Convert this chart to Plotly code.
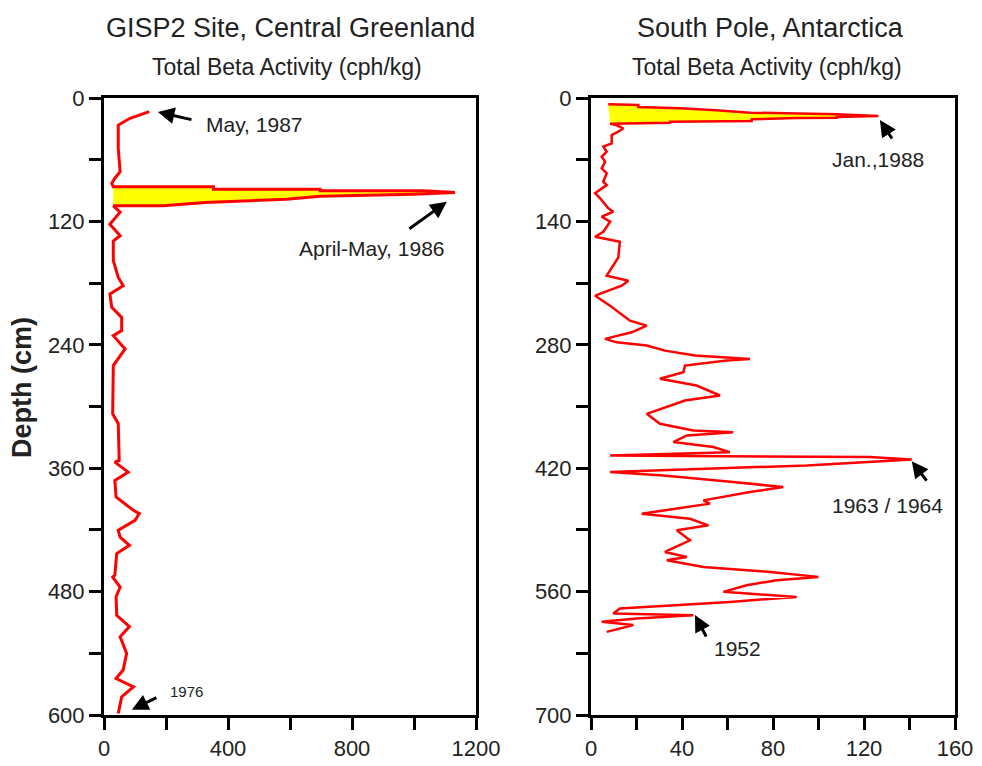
import plotly.graph_objects as go

# ---------------- data ----------------
# GISP2 Site, Central Greenland: total beta activity (cph/kg) vs depth (cm)
gisp2_beta = [146, 84, 46, 46, 52, 35, 25,
              30, 353, 353, 697, 697, 1030, 1132, 1000, 869, 697, 589, 326, 191, 30,
              52, 19, 52, 30, 30, 46, 62, 19, 25, 57, 57, 30, 68, 30, 28, 46, 49, 35, 78,
              35, 39, 95, 114, 100, 46, 52, 82, 41, 35, 28, 52, 39, 41, 82, 52, 73, 62,
              39, 95, 57, 46]
gisp2_depth = [13.3, 19.7, 26.3, 48.9, 71.7, 78, 83,
               86.4, 86.4, 88.7, 88.7, 90.3, 90.3, 91.9, 93.5, 94.5, 95.5, 98.4, 101.6, 104.9, 104.9,
               111, 122.7, 134, 139, 158, 174.5, 182.5, 190.6, 203.6, 213.3, 226.2, 231.1, 244, 260.2,
               307.1, 316.8, 352.5, 354.1, 363.8, 372, 388, 401, 404.2, 410.7, 420.4, 427, 435, 443,
               464, 466, 475.5, 485, 503, 514, 524, 540, 556, 564.5, 572.6, 582.4, 598.4]
gisp2_peak = (7, 20)   # index range of the 1986 peak that is shaded

# South Pole, Antarctica
sp_beta = [7.6, 20.8, 20.8, 39, 55, 70, 108, 126.3, 108, 108, 90, 70.6, 70.6, 34.7, 34.7, 8.4,
           11.3, 14.2, 12, 9.1, 9.1, 5.4, 6.9, 4.7, 6.2, 4.7, 6.9, 5.4, 6.9, 1.8, 4, 7.6, 9.8,
           4.7, 8.4, 5.4, 1.8, 12.7, 12, 8.4, 6.9,
           16.4, 13.5, 1.8, 8.4, 17.1, 24.5, 17.9, 6.2, 11.3, 24.5, 32.5, 45.7, 69.9, 59.6, 41.3,
           40.6, 30.3, 46.4, 56.7, 41.3, 24.5, 30.3, 45, 62.5, 42.1, 36.2, 53.8, 61, 8.4, 68.4,
           122.6, 141, 122.6, 94.8, 8.4, 31.8, 62.5, 84.5, 69.9, 49.4, 52.3, 22.3, 43.5, 51.6,
           37.7, 43.5, 32.5, 42.1, 33.3, 49.4, 78.7, 99.9, 81.6, 68.4, 58.2, 90.4, 61.1, 12.7,
           9.8, 45, 20.1, 4.7, 18.6, 6.9]
sp_depth = [7.2, 7.9, 10.2, 11.7, 14, 16.6, 18.5, 20.4, 21.5, 22.3, 22.8, 24.2, 26, 27, 28, 29.1,
            31, 34.4, 38.2, 42, 51.4, 55.2, 60.9, 66.6, 72.3, 79.8, 85.4, 95, 98.7, 108.1, 113.8,
            125.1, 129, 134.7, 140.3, 151.7, 157.4, 163, 181, 196,
            201.6, 207.3, 213, 224.3, 235.6, 252.6, 258.3, 265.8, 273.3, 277.2, 280.9, 286.6,
            292.2, 296, 297.9, 303.6, 311.2, 318.6, 326.2, 337.5, 343.2, 358.3, 369.6, 377.2,
            379.1, 382.9, 390.4, 396, 401.8, 405.5, 406.6, 407.4, 410, 413, 416.8, 424.4, 428.2,
            435.7, 441.4, 447.1, 456.5, 460.2, 471.6, 477.3, 484.8, 490.5, 501.8, 515, 520.7,
            524.5, 532, 537.7, 543.3, 547.1, 552.8, 560.3, 566, 571.7, 579.2, 584.8, 586.7,
            590.5, 594.3, 598, 605.7]
sp_peak = (0, 15)

gisp2_xticks = list(range(0, 1201, 200))
gisp2_yticks = list(range(0, 601, 60))
sp_xticks = list(range(0, 161, 20))
sp_yticks = list(range(0, 701, 70))

titles = ["GISP2 Site, Central Greenland", "South Pole, Antarctica"]
subtitle = "Total Beta Activity (cph/kg)"

# ---------------- figure ----------------
# the page body adds an 8 px margin, so the figure is drawn 8 px smaller
# and all layout positions below are given in window pixels minus 8
OFF = 8
W, H = 982 - OFF, 766 - OFF
FONT = "Liberation Sans, Arial, sans-serif"
RED = "#ff0000"
YELLOW = "#ffff00"

fig = go.Figure()

def add_site(beta, depth, peak, xa, ya, lw):
    a, b = peak
    fig.add_trace(go.Scatter(x=beta[a:b + 1], y=depth[a:b + 1], mode="lines",
                             fill="toself", fillcolor=YELLOW, line=dict(width=0),
                             hoverinfo="skip", showlegend=False, xaxis=xa, yaxis=ya))
    fig.add_trace(go.Scatter(x=beta, y=depth, mode="lines",
                             line=dict(color=RED, width=lw),
                             showlegend=False, xaxis=xa, yaxis=ya))

add_site(gisp2_beta, gisp2_depth, gisp2_peak, "x", "y", 3)
add_site(sp_beta, sp_depth, sp_peak, "x2", "y2", 2.5)

def px_x(p):
    return (p - OFF) / W

def px_y(p):
    return 1 - (p - OFF) / H

axis_common = dict(showline=True, mirror=True, linecolor="black", linewidth=3,
                   ticks="outside", ticklen=12, tickwidth=3, tickcolor="black",
                   showgrid=False, zeroline=False, automargin=False,
                   tickfont=dict(family=FONT, size=22, color="#222"))

def labels(vals, every):
    return [str(v) if i % every == 0 else "" for i, v in enumerate(vals)]

ydom = [px_y(715), px_y(98)]
fig.update_layout(
    width=W, height=H, margin=dict(l=0, r=0, t=0, b=0, pad=0), autosize=False,
    paper_bgcolor="white", plot_bgcolor="white",
    xaxis=dict(domain=[px_x(104), px_x(476)], range=[0, 1200], anchor="y",
               tickvals=gisp2_xticks, ticktext=labels(gisp2_xticks, 2), **axis_common),
    yaxis=dict(domain=ydom, range=[600, 0], anchor="x",
               tickvals=gisp2_yticks, ticktext=labels(gisp2_yticks, 2), **axis_common),
    xaxis2=dict(domain=[px_x(591), px_x(955)], range=[0, 160], anchor="y2",
                tickvals=sp_xticks, ticktext=labels(sp_xticks, 2), **axis_common),
    yaxis2=dict(domain=ydom, range=[700, 0], anchor="x2",
                tickvals=sp_yticks, ticktext=labels(sp_yticks, 2), **axis_common),
)

ann = []
for cx, t in zip([290, 770], titles):
    ann.append(dict(text=t, x=px_x(cx), y=px_y(28), xref="paper", yref="paper",
                    showarrow=False, font=dict(family=FONT, size=27, color="#222"),
                    xanchor="center", yanchor="middle"))
    ann.append(dict(text=subtitle, x=px_x(cx - 3), y=px_y(67), xref="paper", yref="paper",
                    showarrow=False, font=dict(family=FONT, size=23, color="#222"),
                    xanchor="center", yanchor="middle"))
ann.append(dict(text="<b>Depth (cm)</b>", x=px_x(22), y=px_y(388), xref="paper", yref="paper",
                showarrow=False, textangle=-90, font=dict(family=FONT, size=27, color="#222"),
                xanchor="center", yanchor="middle"))

labels_txt = [
    ("May, 1987", "x", "y", 487, 25.3, 21),
    ("April-May, 1986", "x", "y", 865, 146, 21),
    ("1976", "x", "y", 265, 576.7, 15),
    ("Jan.,1988", "x2", "y2", 126, 70.3, 21),
    ("1963 / 1964", "x2", "y2", 130.5, 461.8, 21),
    ("1952", "x2", "y2", 64.6, 624, 21),
]
for t, xr, yr, x, y, s in labels_txt:
    ann.append(dict(text=t, x=x, y=y, xref=xr, yref=yr, showarrow=False,
                    font=dict(family=FONT, size=s, color="#222"),
                    xanchor="center", yanchor="middle"))

arrows = [
    ("x", "y", 174, 13.6, 35, 8),
    ("x", "y", 1106, 101, -39, 28),
    ("x", "y", 90, 595, 26, -13),
    ("x2", "y2", 127, 25, 13, 20),
    ("x2", "y2", 141, 412, 16, 21),
    ("x2", "y2", 45.7, 586.6, 12, 23),
]
for xr, yr, x, y, dx, dy in arrows:
    ann.append(dict(text="", x=x, y=y, xref=xr, yref=yr, ax=dx, ay=dy,
                    axref="pixel", ayref="pixel", showarrow=True,
                    arrowhead=2, arrowsize=1.1, arrowwidth=3, arrowcolor="black"))

fig.update_layout(annotations=ann)
fig.write_html("out.html")
